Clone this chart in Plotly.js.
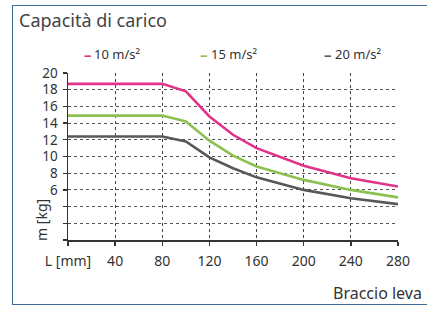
<!DOCTYPE html>
<html>
<head>
<meta charset="utf-8">
<script src="https://cdn.plot.ly/plotly-3.0.1.min.js"></script>
<style>
html,body{margin:0;padding:0;background:#fff;}
#frame{position:absolute;left:12px;top:5px;width:440px;height:298px;border:1.6px solid #3d6a96;box-sizing:content-box;}
#chart{position:absolute;left:0;top:0;width:427px;height:309px;}
</style>
</head>
<body>
<div id="frame"></div>
<div id="chart"></div>
<script>
const lengths = [0, 80, 100, 120, 140, 160, 200, 240, 280];
const series10 = [18.7, 18.7, 17.8, 14.8, 12.6, 11.0, 8.9, 7.4, 6.4];
const series15 = [14.9, 14.9, 14.2, 11.9, 10.1, 8.8, 7.2, 6.0, 5.1];
const series20 = [12.4, 12.4, 11.8, 9.9, 8.6, 7.5, 6.0, 5.0, 4.3];
const seriesNames = ['10 m/s²', '15 m/s²', '20 m/s²'];
const seriesColors = ['#e2338b', '#8cc152', '#58585a'];
const xTickVals = [0, 40, 80, 120, 160, 200, 240, 280];
const xTickText = ['L [mm]', '40', '80', '120', '160', '200', '240', '280'];
const yTickVals = [0, 2, 4, 6, 8, 10, 12, 14, 16, 18, 20];
const yTickText = ['', '', '', '6', '8', '10', '12', '14', '16', '18', '20'];
const legendX = [0.042, 0.394, 0.771];

const allSeries = [series10, series15, series20];
const traces = allSeries.map((s, i) => ({
  x: lengths, y: s, type: 'scatter', mode: 'lines', name: seriesNames[i],
  line: {color: seriesColors[i], width: 2.6}, showlegend: false
}));

const FONT = 'Noto Sans, sans-serif';
const annotations = [];
seriesNames.forEach((n, i) => {
  annotations.push({
    xref: 'paper', yref: 'paper', x: legendX[i], y: 1.115, xanchor: 'left', yanchor: 'middle',
    showarrow: false, text: '–',
    font: {family: FONT, size: 15, color: seriesColors[i], weight: 'bold'}
  });
  annotations.push({
    xref: 'paper', yref: 'paper', x: legendX[i] + 0.032, y: 1.115, xanchor: 'left', yanchor: 'middle',
    showarrow: false, text: n,
    font: {family: FONT, size: 13, color: '#333'}
  });
});
annotations.push({
  xref: 'paper', yref: 'paper', x: -0.079, y: 0.12, xanchor: 'center', yanchor: 'middle',
  textangle: -90, showarrow: false, text: 'm [kg]',
  font: {family: FONT, size: 14, color: '#333'}
});
annotations.push({
  xref: 'paper', yref: 'paper', x: 1.08, y: -0.318, xanchor: 'right', yanchor: 'middle',
  showarrow: false, text: 'Braccio leva',
  font: {family: FONT, size: 16, color: '#333'}
});

const layout = {
  width: 427, height: 309,
  margin: {l: 68, r: 28.5, t: 73, b: 69},
  paper_bgcolor: 'rgba(0,0,0,0)', plot_bgcolor: 'rgba(0,0,0,0)',
  font: {family: FONT, size: 13, color: '#333'},
  title: {text: 'Capacità di carico', x: 19/427, xanchor: 'left', xref: 'container',
          y: 1 - 21/309, yanchor: 'middle', yref: 'container',
          font: {family: FONT, size: 18, color: '#444'}},
  xaxis: {range: [0, 280], tickmode: 'array', tickvals: xTickVals, ticktext: xTickText,
          showgrid: true, gridcolor: '#444', griddash: 'dot', gridwidth: 1,
          showline: true, linecolor: '#333', linewidth: 1.5,
          ticks: 'outside', ticklen: 4, tickcolor: '#333', tickwidth: 1.3,
          zeroline: false, tickfont: {family: FONT, size: 14, color: '#333'}, ticklabelstandoff: 4},
  yaxis: {range: [0, 20], tickmode: 'array', tickvals: yTickVals, ticktext: yTickText,
          showgrid: true, gridcolor: '#555', griddash: 'dot', gridwidth: 1,
          showline: true, linecolor: '#333', linewidth: 1.5,
          ticks: 'outside', ticklen: 4, tickcolor: '#333', tickwidth: 1.3,
          zeroline: false, tickfont: {family: FONT, size: 13.5, color: '#333'}, ticklabelstandoff: 2},
  annotations: annotations
};

Plotly.newPlot('chart', traces, layout, {displayModeBar: false, staticPlot: true});
</script>
</body>
</html>
